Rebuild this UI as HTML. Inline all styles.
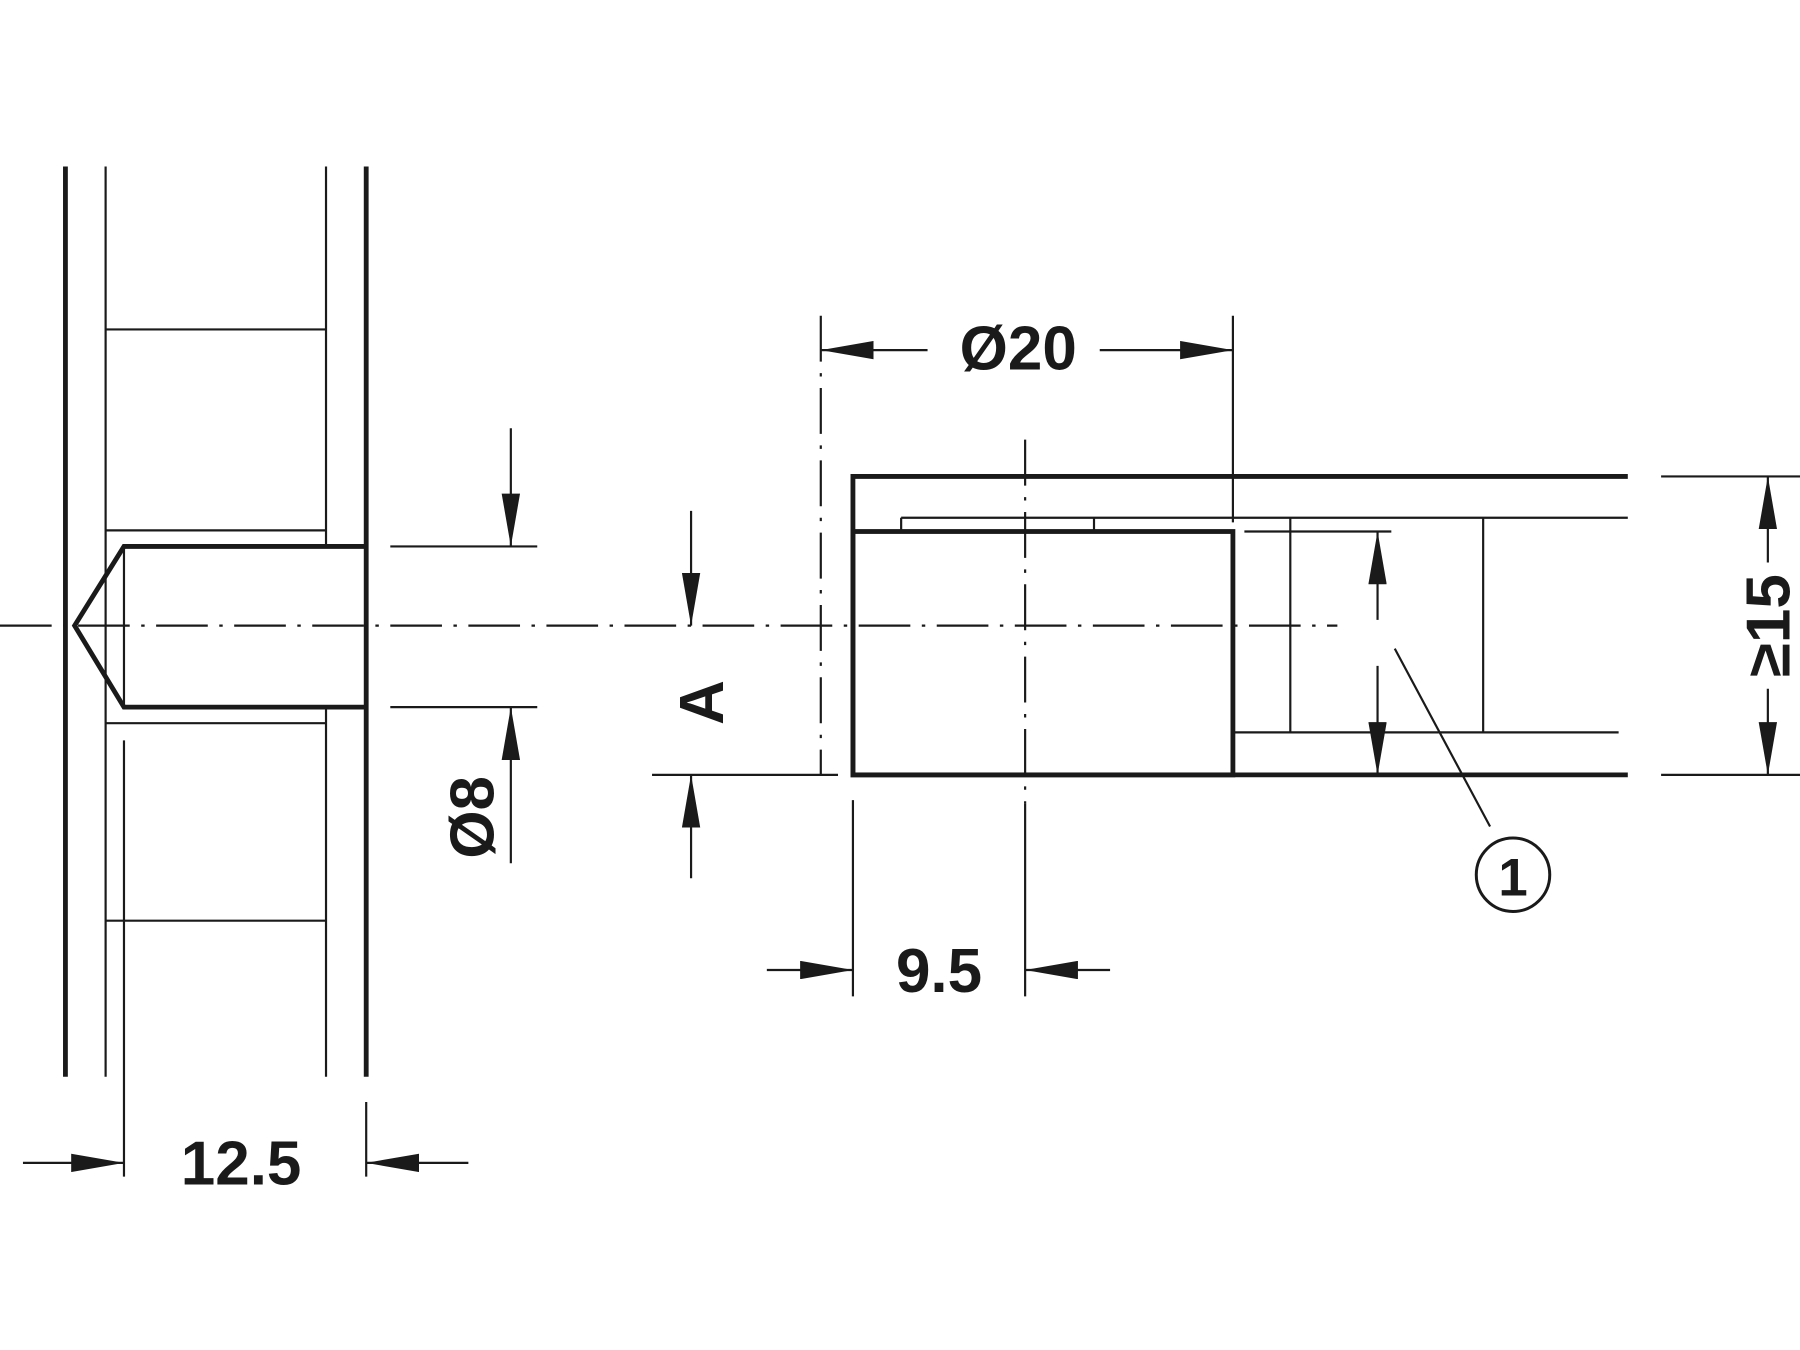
<!DOCTYPE html>
<html><head><meta charset="utf-8"><style>html,body{margin:0;padding:0;background:#fff}svg{display:block}</style></head>
<body>
<svg width="1800" height="1350" viewBox="0 0 1568 1176" xmlns="http://www.w3.org/2000/svg">
<defs>
<marker id="ar" viewBox="0 0 46 16" refX="46" refY="8" markerWidth="46" markerHeight="16" markerUnits="userSpaceOnUse" orient="auto"><path d="M0,0 L46,8 L0,16 Z" fill="#1a1a1a"/></marker>
</defs>
<g stroke="#1a1a1a" fill="none" stroke-width="1.9">
<line x1="57" y1="145" x2="57" y2="938" stroke-width="4.2"/>
<line x1="319" y1="145" x2="319" y2="938" stroke-width="4.2"/>
<line x1="92" y1="145" x2="92" y2="938"/>
<line x1="284" y1="145" x2="284" y2="476"/>
<line x1="284" y1="616" x2="284" y2="938"/>
<line x1="92" y1="287" x2="284" y2="287"/>
<line x1="92" y1="462" x2="284" y2="462"/>
<line x1="92" y1="630" x2="284" y2="630"/>
<line x1="92" y1="802" x2="284" y2="802"/>
<line x1="108" y1="476" x2="108" y2="616"/>
<line x1="108" y1="645" x2="108" y2="1025"/>
<polyline points="319,476 108,476 65,545 108,616 319,616" stroke-width="4.2"/>
<line x1="0" y1="545" x2="1165" y2="545" stroke-dasharray="45,10,3,10"/>
<line x1="319" y1="960" x2="319" y2="1025"/>
<line x1="20" y1="1013" x2="108" y2="1013" marker-end="url(#ar)"/>
<line x1="408" y1="1013" x2="319" y2="1013" marker-end="url(#ar)"/>
<line x1="340" y1="476" x2="468" y2="476"/>
<line x1="340" y1="616" x2="468" y2="616"/>
<line x1="445" y1="373" x2="445" y2="476" marker-end="url(#ar)"/>
<line x1="445" y1="752" x2="445" y2="616" marker-end="url(#ar)"/>
<line x1="568" y1="675" x2="730" y2="675"/>
<line x1="602" y1="445" x2="602" y2="545" marker-end="url(#ar)"/>
<line x1="602" y1="765" x2="602" y2="675" marker-end="url(#ar)"/>
<polyline points="1418,415 743,415 743,675 1418,675" stroke-width="4.2"/>
<rect x="743" y="463" width="331" height="212" stroke-width="4.2"/>
<line x1="785" y1="451" x2="1418" y2="451"/>
<line x1="785" y1="451" x2="785" y2="463"/>
<line x1="953" y1="451" x2="953" y2="463"/>
<line x1="1084" y1="463" x2="1212" y2="463"/>
<line x1="1124" y1="451" x2="1124" y2="638"/>
<line x1="1292" y1="451" x2="1292" y2="638"/>
<line x1="1074" y1="638" x2="1410" y2="638"/>
<line x1="1200" y1="540" x2="1200" y2="463" marker-end="url(#ar)"/>
<line x1="1200" y1="580" x2="1200" y2="675" marker-end="url(#ar)"/>
<line x1="1215" y1="565" x2="1298" y2="720"/>
<circle cx="1318" cy="762" r="32" stroke-width="2.6"/>
<line x1="893" y1="383" x2="893" y2="700" stroke-dasharray="40,10,3,10"/>
<line x1="715" y1="275" x2="715" y2="675" stroke-dasharray="40,10,3,10"/>
<line x1="1074" y1="275" x2="1074" y2="455"/>
<line x1="808" y1="305" x2="715" y2="305" marker-end="url(#ar)"/>
<line x1="958" y1="305" x2="1074" y2="305" marker-end="url(#ar)"/>
<line x1="1447" y1="415" x2="1568" y2="415"/>
<line x1="1447" y1="675" x2="1568" y2="675"/>
<line x1="1540" y1="490" x2="1540" y2="415" marker-end="url(#ar)"/>
<line x1="1540" y1="600" x2="1540" y2="675" marker-end="url(#ar)"/>
<line x1="743" y1="697" x2="743" y2="868"/>
<line x1="893" y1="700" x2="893" y2="868"/>
<line x1="668" y1="845" x2="743" y2="845" marker-end="url(#ar)"/>
<line x1="967" y1="845" x2="893" y2="845" marker-end="url(#ar)"/>
</g>
<g font-family="Liberation Sans, sans-serif" font-weight="bold" font-size="54" fill="#1a1a1a" text-anchor="middle">
<text x="210" y="1032">12.5</text>
<text x="818" y="864">9.5</text>
<text x="887" y="322">Ø20</text>
<text x="1318" y="780" font-size="46">1</text>
<text transform="translate(430,712) rotate(-90)">Ø8</text>
<text transform="translate(630,612) rotate(-90)">A</text>
<text transform="translate(1559,545) rotate(-90)">≥15</text>
</g>
</svg>
</body></html>
